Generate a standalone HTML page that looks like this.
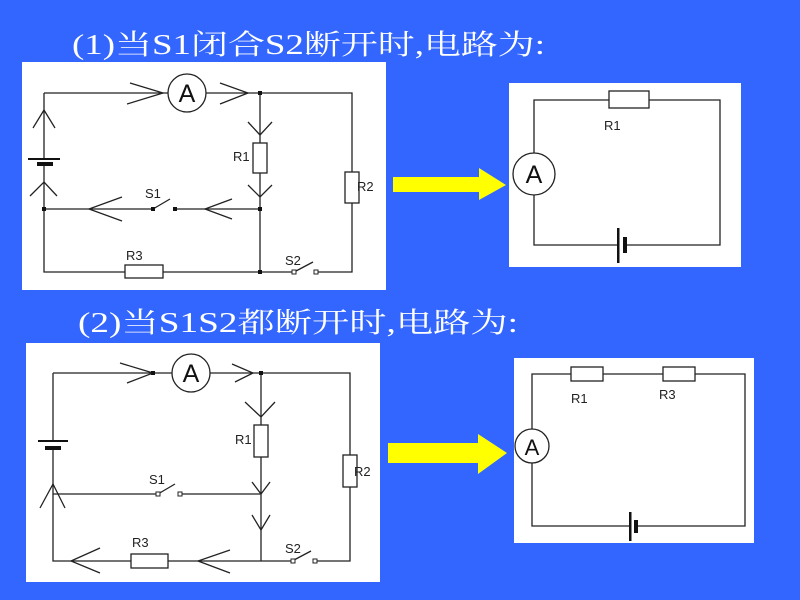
<!DOCTYPE html>
<html><head><meta charset="utf-8"><style>
html,body{margin:0;padding:0;background:#3366ff;}
svg{display:block;}
text{font-family:"Liberation Sans",sans-serif;}
.t{font-family:"Liberation Serif","Noto Serif CJK SC",serif;fill:#fff;font-size:28px;}
</style></head><body>
<svg width="800" height="600" viewBox="0 0 800 600" xmlns="http://www.w3.org/2000/svg">
<rect width="800" height="600" fill="#3366ff"/>
<text class="t" x="72" y="54" textLength="473" lengthAdjust="spacingAndGlyphs">(1)当S1闭合S2断开时,电路为:</text>
<text class="t" x="78" y="332" textLength="440" lengthAdjust="spacingAndGlyphs">(2)当S1S2都断开时,电路为:</text>

<!-- white boxes -->
<rect x="22" y="62" width="364" height="228" fill="#fff"/>
<rect x="26" y="343" width="354" height="239" fill="#fff"/>
<rect x="509" y="83" width="232" height="184" fill="#fff"/>
<rect x="514" y="358" width="240" height="185" fill="#fff"/>

<g stroke="#222" stroke-width="1.3" fill="none">
<!-- Diagram 1 -->
<path d="M44 93 H168 M206 93 H352 V172 M352 203 V272 H316 M294 272 H260 M260 93 V143 M260 173 V272 M44 93 V159 M44 163 V272 H125 M163 272 H260 M44 209 H153 M175 209 H260"/>
<path d="M153 209 L170 199"/>
<path d="M296 271 L313 262"/>
<circle cx="187" cy="93" r="19" fill="#fff"/>
<rect x="253" y="143" width="14" height="30" fill="#fff"/>
<rect x="345" y="172" width="14" height="31" fill="#fff"/>
<rect x="125" y="265" width="38" height="13" fill="#fff"/>
<!-- arrows d1 -->
<path d="M130 83 L163 93 L127 104 M220 83 L248 93 L220 104 M248 122 L260 135 L272 122 M248 185 L260 197 L272 185 M122 197 L89 209 L122 221 M232 199 L205 209 L232 219 M33 128 L44 110 L55 128 M30 196 L44 182 L57 196"/>

<!-- Diagram 2 -->
<path d="M53 373 H172 M210 373 H350 V455 M350 487 V561 H316 M293 561 H261 M261 373 V425 M261 457 V561 M53 373 V441 M53 447 V561 H131 M168 561 H261 M53 494 H158 M180 494 H261"/>
<path d="M158 494 L175 484"/>
<path d="M294 560 L311 551"/>
<circle cx="191" cy="373" r="19" fill="#fff"/>
<rect x="254" y="425" width="14" height="32" fill="#fff"/>
<rect x="343" y="455" width="14" height="32" fill="#fff"/>
<rect x="131" y="554" width="37" height="14" fill="#fff"/>
<path d="M120 363 L153 373 L127 383 M232 364 L253 373 L235 382 M245 402 L261 417 L275 402 M252 482 L261 494 L270 482 M252 515 L261 530 L270 515 M40 508 L53 484 L65 508 M100 548 L71 561 L100 573 M230 550 L198 561 L230 573"/>

<!-- right box 1 -->
<path d="M534 153 V100 H609 M649 100 H720 V245 H627 M618 245 H534 V195"/>
<rect x="609" y="91" width="40" height="17" fill="#fff"/>
<circle cx="534" cy="174" r="21" fill="#fff"/>
<!-- right box 2 -->
<path d="M532 429 V374 H571 M603 374 H663 M695 374 H745 V526 H635 M630 526 H532 V463"/>
<rect x="571" y="367" width="32" height="14" fill="#fff"/>
<rect x="663" y="367" width="32" height="14" fill="#fff"/>
<circle cx="532" cy="446" r="17" fill="#fff"/>
</g>

<!-- batteries -->
<g fill="#111">
<rect x="28" y="158" width="32" height="2"/>
<rect x="37" y="162" width="16" height="4"/>
<rect x="38" y="440" width="30" height="2"/>
<rect x="45" y="446" width="16" height="4"/>
<rect x="617" y="228" width="2.5" height="35"/>
<rect x="623" y="237" width="4" height="16"/>
<rect x="629" y="512" width="2.5" height="29"/>
<rect x="634" y="520" width="4" height="13"/>
</g>
<!-- switch dots -->
<g fill="#111">
<rect x="151" y="207" width="4" height="4"/><rect x="173" y="207" width="4" height="4"/>
<rect x="258" y="207" width="4" height="4"/><rect x="42" y="207" width="4" height="4"/>
<rect x="258" y="91" width="4" height="4"/><rect x="258" y="270" width="4" height="4"/>
<rect x="259" y="371" width="4" height="4"/><rect x="151" y="371" width="4" height="4"/>
</g>
<g fill="#fff" stroke="#222" stroke-width="1">
<rect x="292" y="270" width="4" height="4"/><rect x="314" y="270" width="4" height="4"/>
<rect x="156" y="492" width="4" height="4"/><rect x="178" y="492" width="4" height="4"/>
<rect x="291" y="559" width="4" height="4"/><rect x="313" y="559" width="4" height="4"/>
</g>

<!-- labels -->
<g font-size="13" fill="#222">
<text x="233" y="161">R1</text>
<text x="357" y="191">R2</text>
<text x="145" y="198">S1</text>
<text x="126" y="260">R3</text>
<text x="285" y="265">S2</text>
<text x="235" y="444">R1</text>
<text x="354" y="476">R2</text>
<text x="149" y="484">S1</text>
<text x="132" y="547">R3</text>
<text x="285" y="553">S2</text>
<text x="604" y="130">R1</text>
<text x="571" y="403">R1</text>
<text x="659" y="399">R3</text>
</g>
<g font-size="25" fill="#111" text-anchor="middle">
<text x="187" y="102">A</text>
<text x="191" y="382">A</text>
<text x="534" y="183">A</text>
<text x="532" y="455" font-size="22">A</text>
</g>

<!-- yellow arrows -->
<polygon points="393,177 479,177 479,168 506,185 479,200 479,192 393,192" fill="#ffff00"/>
<polygon points="388,443 478,443 478,434 507,453 478,474 478,463 388,463" fill="#ffff00"/>
</svg>
</body></html>
